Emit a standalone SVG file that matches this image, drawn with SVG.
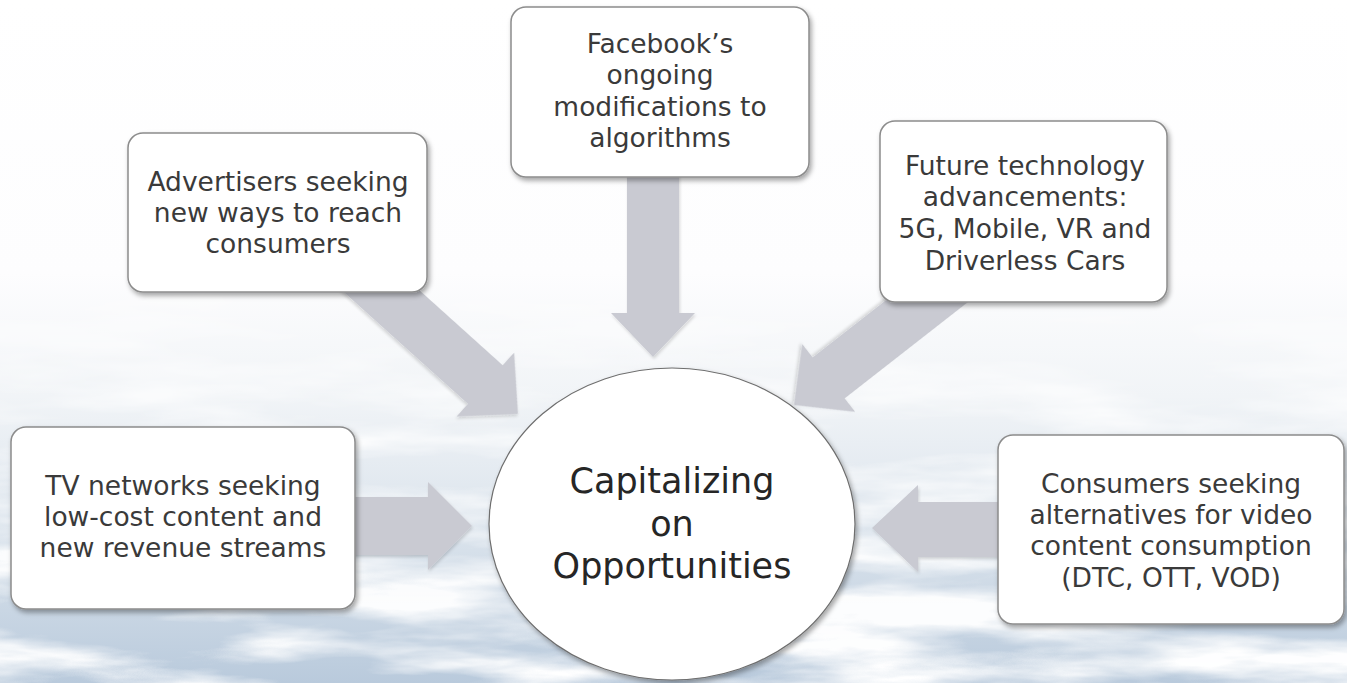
<svg xmlns="http://www.w3.org/2000/svg" width="1347" height="683" viewBox="0 0 1347 683">
<style>
.box{fill:#ffffff;stroke:#8c8c8c;stroke-width:1.5;filter:url(#sh)}
.lbl{font-family:"DejaVu Sans","Liberation Sans",sans-serif;font-size:26.5px;fill:#3a3a3a;text-anchor:middle}
.big{font-family:"DejaVu Sans","Liberation Sans",sans-serif;font-size:35px;fill:#262626;text-anchor:middle}
.arr{fill:#c9cad2;filter:url(#ash)}
</style>
<defs>
<linearGradient id="bg" x1="0" y1="0" x2="0" y2="1">
<stop offset="0" stop-color="#ffffff"/>
<stop offset="0.4" stop-color="#fdfdfe"/>
<stop offset="0.58" stop-color="#f1f4f7"/>
<stop offset="0.78" stop-color="#dae3ec"/>
<stop offset="1" stop-color="#b9cadc"/>
</linearGradient>
<linearGradient id="mg" x1="0" y1="0" x2="0" y2="1">
<stop offset="0.35" stop-color="#fff" stop-opacity="0"/>
<stop offset="0.65" stop-color="#fff" stop-opacity="0.8"/>
<stop offset="1" stop-color="#fff" stop-opacity="1"/>
</linearGradient>
<mask id="m"><rect width="1347" height="683" fill="url(#mg)"/></mask>
<filter id="cloud" x="0" y="0" width="1347" height="683" filterUnits="userSpaceOnUse">
<feTurbulence type="fractalNoise" baseFrequency="0.004 0.022" numOctaves="5" seed="7"/>
<feColorMatrix type="matrix" values="0 0 0 0 1  0 0 0 0 1  0 0 0 0 1  3.2 0 0 0 -1.3"/>
</filter>
<filter id="sh" x="-10%" y="-10%" width="125%" height="130%">
<feDropShadow dx="2" dy="3" stdDeviation="2.5" flood-color="#000" flood-opacity="0.35"/>
</filter>
<filter id="ash" x="-10%" y="-10%" width="125%" height="130%">
<feDropShadow dx="1" dy="2" stdDeviation="1.5" flood-color="#000" flood-opacity="0.15"/>
</filter>
</defs>
<rect width="1347" height="683" fill="url(#bg)"/>
<rect width="1347" height="683" fill="#fff" filter="url(#cloud)" mask="url(#m)"/>

<g id="connectors">
<polygon class="arr" points="330,497 428,497 428,482 472,526 428,570 428,555 330,555"/>
<polygon class="arr" points="1010,502 918,502 918,485 872,528 918,572 918,557 1010,557"/>
<polygon class="arr" points="627,160 679,160 679,313 695,313 653,357 611,313 627,313"/>
<g transform="translate(518,414) rotate(42)"><polygon class="arr" points="-250,-26 -44,-26 -44,-43 0,0 -44,43 -44,26 -250,26"/></g>
<g transform="translate(794,405) rotate(142)"><polygon class="arr" points="-230,-26 -44,-26 -44,-43 0,0 -44,43 -44,26 -230,26"/></g>
</g>

<g id="facebook">
<rect class="box" x="511" y="7" width="298" height="170" rx="15"/>
<text class="lbl" x="660" y="53">Facebook’s</text>
<text class="lbl" x="660" y="84">ongoing</text>
<text class="lbl" x="660" y="116">modifications to</text>
<text class="lbl" x="660" y="147">algorithms</text>
</g>
<g id="advertisers">
<rect class="box" x="128" y="133" width="299" height="159" rx="15"/>
<text class="lbl" x="278" y="191">Advertisers seeking</text>
<text class="lbl" x="278" y="222">new ways to reach</text>
<text class="lbl" x="278" y="253">consumers</text>
</g>
<g id="future">
<rect class="box" x="880" y="121" width="287" height="181" rx="15"/>
<text class="lbl" x="1025" y="175">Future technology</text>
<text class="lbl" x="1025" y="206">advancements:</text>
<text class="lbl" x="1025" y="238">5G, Mobile, VR and</text>
<text class="lbl" x="1025" y="270">Driverless Cars</text>
</g>
<g id="tv">
<rect class="box" x="11" y="427" width="344" height="182" rx="15"/>
<text class="lbl" x="183" y="495">TV networks seeking</text>
<text class="lbl" x="183" y="526">low-cost content and</text>
<text class="lbl" x="183" y="557">new revenue streams</text>
</g>
<g id="consumers">
<rect class="box" x="998" y="435" width="346" height="189" rx="15"/>
<text class="lbl" x="1171" y="493">Consumers seeking</text>
<text class="lbl" x="1171" y="524">alternatives for video</text>
<text class="lbl" x="1171" y="555">content consumption</text>
<text class="lbl" x="1171" y="587">(DTC, OTT, VOD)</text>
</g>
<g id="center">
<ellipse cx="672" cy="524" rx="183" ry="156" fill="#ffffff" stroke="#6e6e6e" stroke-width="1.2" filter="url(#sh)"/>
<text class="big" x="672" y="493">Capitalizing</text>
<text class="big" x="672" y="536">on</text>
<text class="big" x="672" y="578">Opportunities</text>
</g>
</svg>
